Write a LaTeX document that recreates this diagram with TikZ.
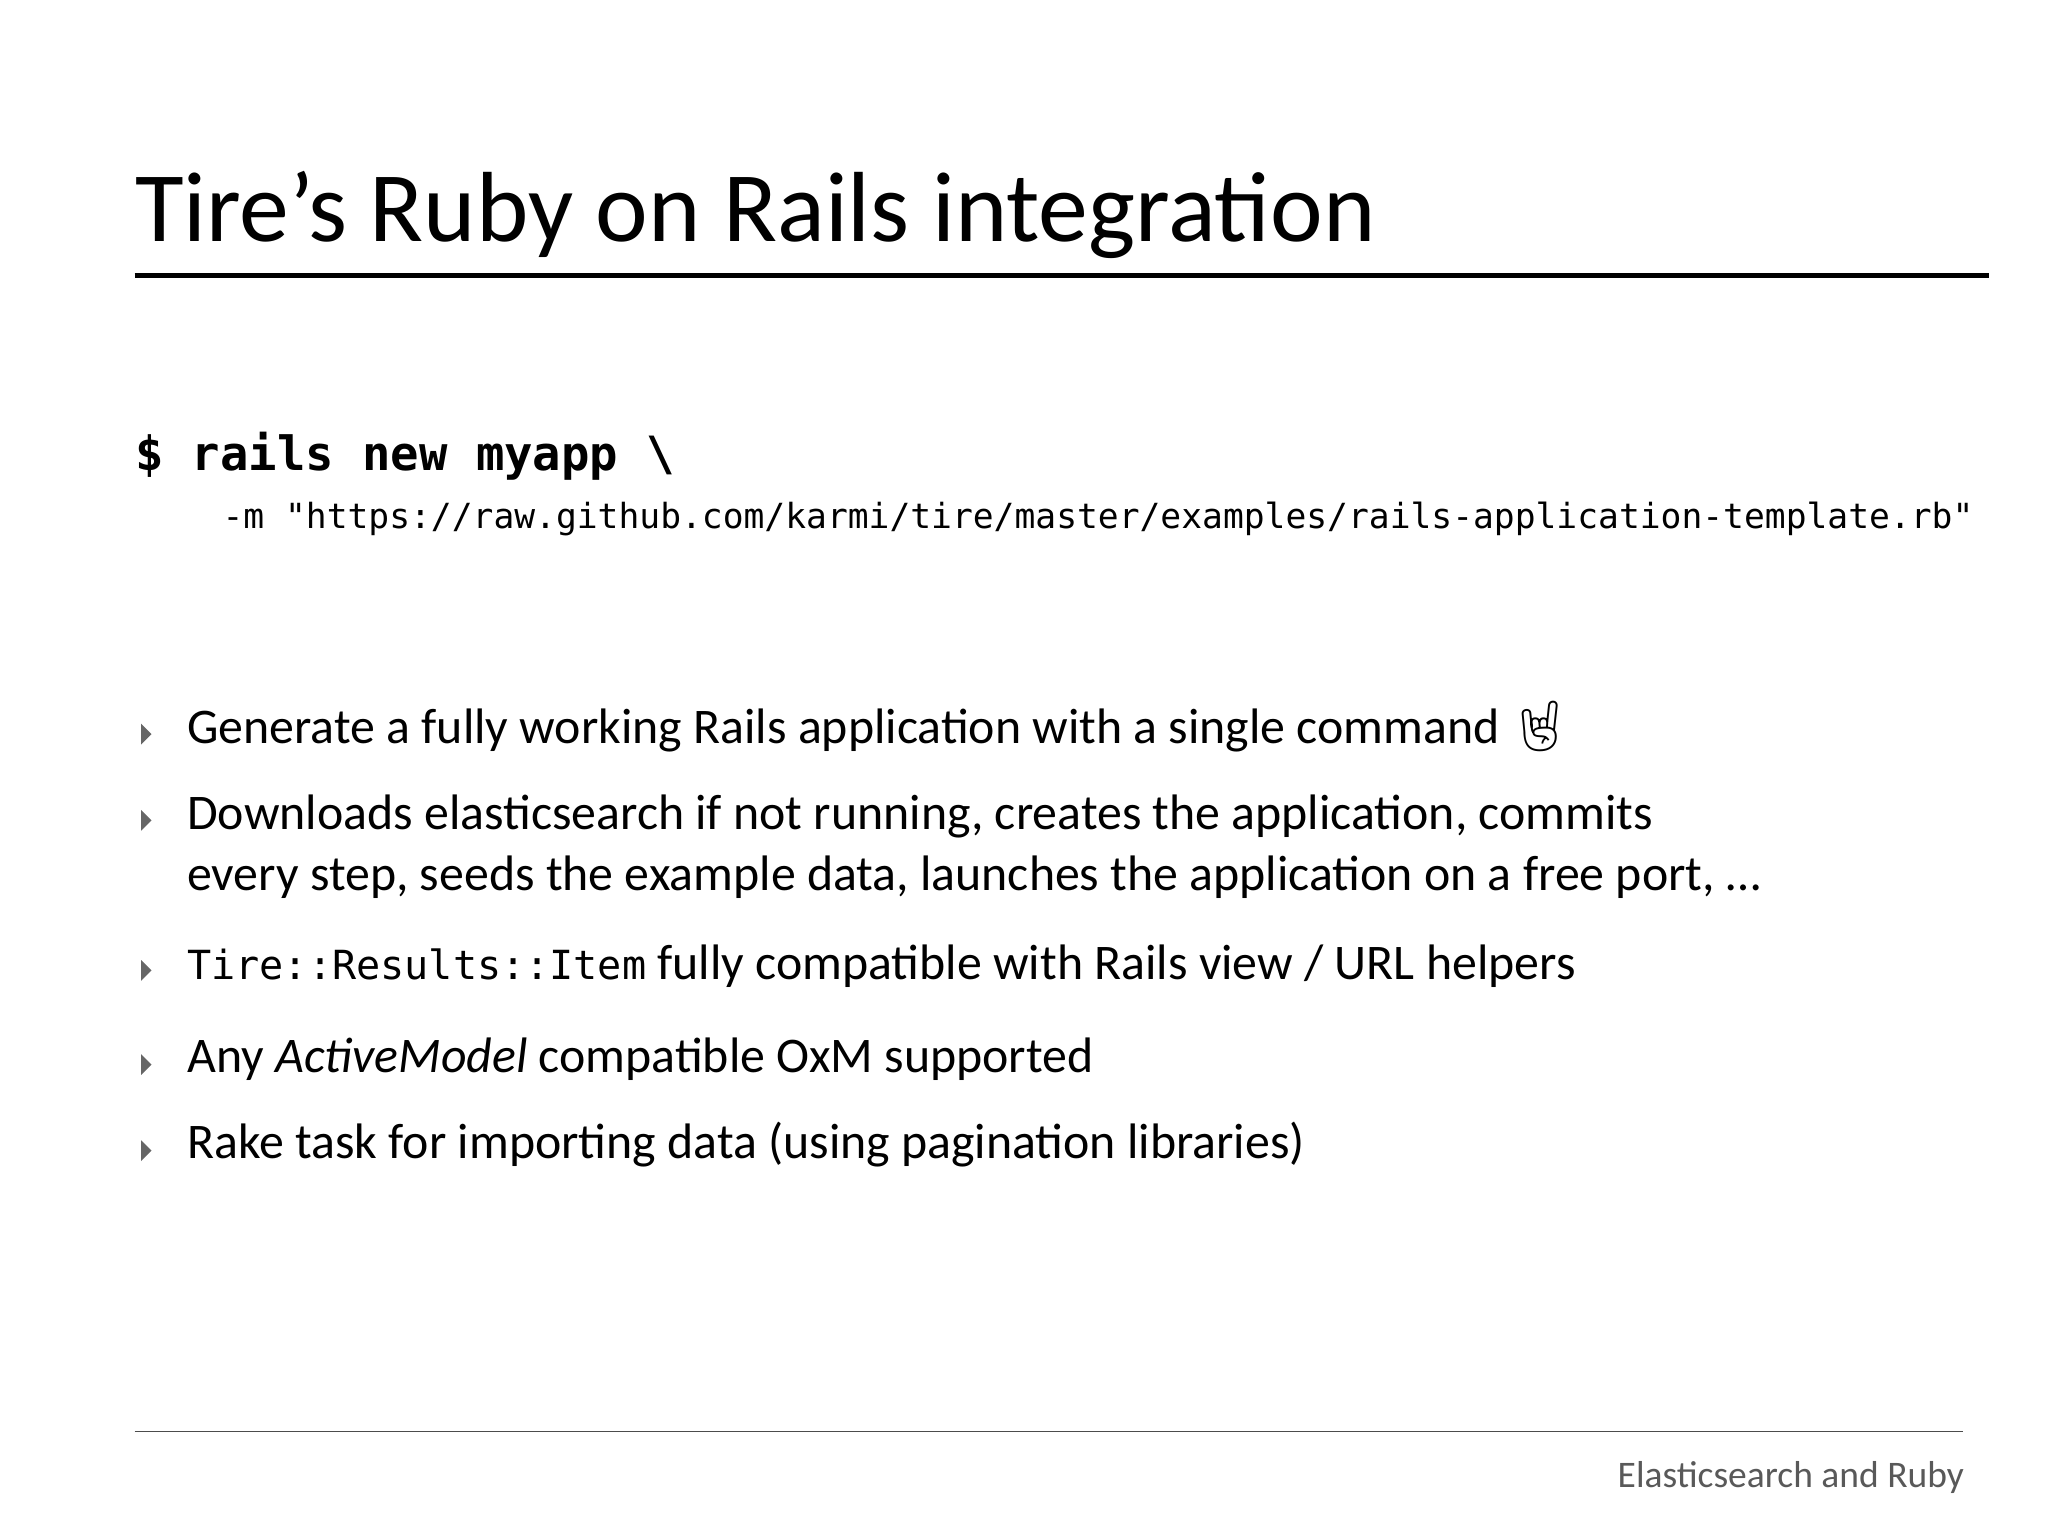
\documentclass[tikz,border=0pt]{standalone}
\usepackage{fontspec}
\setmainfont{Carlito}
\setmonofont{DejaVu Sans Mono}
\newfontfamily\emojifont{Noto Emoji}
\begin{document}
\begin{tikzpicture}[x=0.0175cm,y=-0.0175cm,
  txt/.style={anchor=base west,inner sep=0,font=\fontsize{19}{23}\selectfont},
  bul/.style={fill=black!60,draw=none}]
\useasboundingbox (0,0) rectangle (1568,1176);
\node[anchor=base west,inner sep=0,font=\fontsize{38}{46}\selectfont] (title) at (103,185) {Tire’s Ruby on Rails integration};
\draw[line width=2.2pt] (103,211) -- (1523,211);
\node[anchor=base west,inner sep=0,font=\ttfamily\bfseries\fontsize{18}{22}\selectfont] (cmd) at (103,360) {\$ rails new myapp \textbackslash};
\node[anchor=base west,inner sep=0,font=\ttfamily\fontsize{13.2}{16}\selectfont] (cmd2) at (170,405) {-m "https://raw.github.com/karmi/tire/master/examples/rails-application-template.rb"};
\foreach \y in {562,628,743,815,881}{\fill[bul] (108,\y-8) -- (116,\y) -- (108,\y+8) -- cycle;}
\node[txt] (b1) at (143,569) {Generate a fully working Rails application with a single command\,{\emojifont 🤘}};
\node[txt] (b2) at (143,635) {Downloads elasticsearch if not running, creates the application, commits};
\node[txt] (b2b) at (143,682) {every step, seeds the example data, launches the application on a free port, …};
\node[txt] (b3) at (143,750) {{\ttfamily\fontsize{15.3}{18}\selectfont Tire::Results::Item} fully compatible with Rails view / URL helpers};
\node[txt] (b4) at (143,821) {Any \textit{ActiveModel} compatible OxM supported};
\node[txt] (b5) at (143,887) {Rake task for importing data (using pagination libraries)};
\draw[black!70,line width=0.6pt] (103,1096) -- (1503,1096);
\node[anchor=base east,inner sep=0,text=black!65,font=\fontsize{14.3}{18}\selectfont] (foot) at (1504,1139) {Elasticsearch and Ruby};
\end{tikzpicture}
\end{document}
